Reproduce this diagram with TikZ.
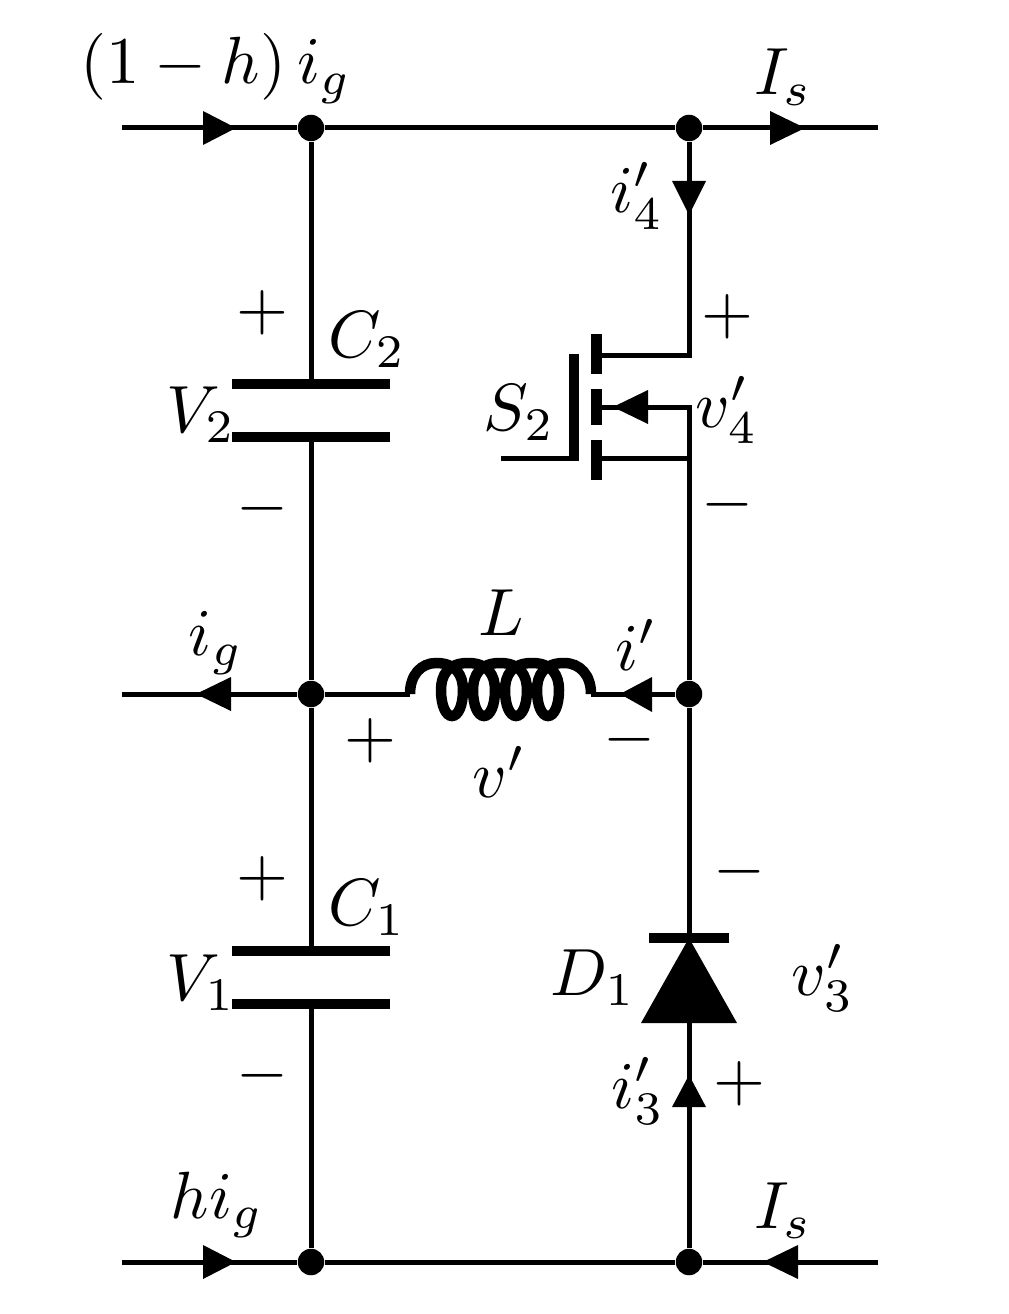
\documentclass[tikz,border=0pt]{standalone}
\usetikzlibrary{positioning}

\tikzset{
  wire/.style={line width=1mm},
  plate/.style={line width=2mm},
  dot/.style={circle,fill=black,inner sep=0pt,minimum size=5.3mm},
  lbl/.style={scale=3.8,anchor=base,inner sep=0pt},
  tip/.style={fill=black,draw=none}
}

\begin{document}
\begin{tikzpicture}[x=0.2mm,y=-0.2mm]
\useasboundingbox (0,0) rectangle (1008,1314);

\node[dot] (TL) at (311,128) {};
\node[dot] (TR) at (689,128) {};
\node[dot] (ML) at (311,694) {};
\node[dot] (MR) at (689,694) {};
\node[dot] (BL) at (311,1262) {};
\node[dot] (BR) at (689,1262) {};

\coordinate (inTop) at (122,128);
\coordinate (outTop) at (878,128);
\coordinate (outMid) at (122,694);
\coordinate (inBot) at (122,1262);
\coordinate (outBot) at (878,1262);
\coordinate (C2a) at (311,384);
\coordinate (C2b) at (311,437);
\coordinate (C1a) at (311,951);
\coordinate (C1b) at (311,1004);
\coordinate (Lleft) at (410,694);
\coordinate (Lright) at (591,694);
\coordinate (drain) at (689,355);
\coordinate (body) at (689,407);
\coordinate (source) at (689,458);
\coordinate (cathode) at (689,938);
\coordinate (anode) at (689,1023);

% outer rails
\draw[wire] (inTop) -- (TL) -- (TR) -- (outTop);
\draw[wire] (inBot) -- (BL) -- (BR) -- (outBot);
\draw[wire] (outMid) -- (ML);

% capacitors
\draw[wire] (TL) -- (C2a);
\draw[wire] (C2b) -- (ML) -- (C1a);
\draw[wire] (C1b) -- (BL);
\draw[plate] (232,384) -- (390,384);
\draw[plate] (232,437) -- (390,437);
\draw[plate] (232,951) -- (390,951);
\draw[plate] (232,1004) -- (390,1004);

% inductor
\draw[wire] (ML) -- (Lleft);
\draw[wire] (Lright) -- (MR);
\draw[line width=2.1mm] (Lleft) .. controls (410,675) and (421,663) .. (436,663)
  \foreach \p in {436,468,500,532} {
    .. controls ({\p+20},663) and ({\p+27},675) .. ({\p+27},690)
    .. controls ({\p+27},706) and ({\p+22},716) .. ({\p+16},716)
    .. controls ({\p+10},716) and ({\p+5},706) .. ({\p+5},690)
    .. controls ({\p+5},675) and ({\p+12},663) .. ({\p+32},663)
  }
  .. controls (580,663) and (591,675) .. (Lright);

% switch
\draw[wire] (TR) -- (drain) -- (596,355);
\draw[wire] (596,407) -- (body) -- (source);
\draw[wire] (596,458) -- (source) -- (MR);
\draw[wire] (501,458) -- (579,458);
\draw[line width=2mm] (574,354) -- (574,460);
\draw[line width=2.2mm] (596.5,334) -- (596.5,374);
\draw[line width=2.2mm] (596.5,389) -- (596.5,425);
\draw[line width=2.2mm] (596.5,440) -- (596.5,480);

% diode
\draw[wire] (MR) -- (cathode);
\draw[wire] (anode) -- (BR);
\draw[plate] (649,938) -- (729,938);
\fill[tip] (cathode) -- (737,1023) -- (641,1023) -- cycle;

% current arrows
\fill[tip] (236,128) -- (203,111) -- (203,145) -- cycle;
\fill[tip] (805,128) -- (770,111) -- (770,145) -- cycle;
\fill[tip] (689,215) -- (672,181) -- (706,181) -- cycle;
\fill[tip] (613,407) -- (648,390) -- (648,424) -- cycle;
\fill[tip] (196,694) -- (231,677) -- (231,711) -- cycle;
\fill[tip] (620,694) -- (652,677) -- (652,712) -- cycle;
\fill[tip] (689,1075) -- (672,1107) -- (706,1107) -- cycle;
\fill[tip] (236,1262) -- (203,1245) -- (203,1279) -- cycle;
\fill[tip] (763,1262) -- (798,1245) -- (798,1279) -- cycle;

% labels
\node[lbl] (lblTop) at (216,84) {$(1-h)\,i_g$};
\node[lbl] (lblIsT) at (783,95) {$I_s$};
\node[lbl] (lblI4) at (637,213) {$i'_4$};
\node[lbl] (lblC2) at (367,357) {$C_2$};
\node[lbl] (lblV2) at (201,432) {$V_2$};
\node[lbl] (lblS2) at (519,430) {$S_2$};
\node[lbl] (lblV4) at (727,427) {$v'_4$};
\node[lbl] (lblL) at (501,635) {$L$};
\node[lbl] (lblIg) at (216,655) {$i_g$};
\node[lbl] (lblI) at (636,670) {$i'$};
\node[lbl] (lblV) at (499,797) {$v'$};
\node[lbl] (lblC1) at (367,925) {$C_1$};
\node[lbl] (lblV1) at (201,1000) {$V_1$};
\node[lbl] (lblD1) at (593,995) {$D_1$};
\node[lbl] (lblV3) at (823,995) {$v'_3$};
\node[lbl] (lblI3) at (638,1108) {$i'_3$};
\node[lbl] (lblHig) at (217,1218) {$hi_g$};
\node[lbl] (lblIsB) at (783,1228) {$I_s$};

% polarity signs
\node[lbl,anchor=center] (pC2) at (262,313) {$+$};
\node[lbl,anchor=center] (mC2) at (262,509) {$-$};
\node[lbl,anchor=center] (pS2) at (727,317) {$+$};
\node[lbl,anchor=center] (mS2) at (727,505) {$-$};
\node[lbl,anchor=center] (pL) at (370,741) {$+$};
\node[lbl,anchor=center] (mL) at (629,740) {$-$};
\node[lbl,anchor=center] (pC1) at (262,879) {$+$};
\node[lbl,anchor=center] (mC1) at (262,1076) {$-$};
\node[lbl,anchor=center] (mD1) at (739,872) {$-$};
\node[lbl,anchor=center] (pD1) at (739,1084) {$+$};

\end{tikzpicture}
\end{document}
